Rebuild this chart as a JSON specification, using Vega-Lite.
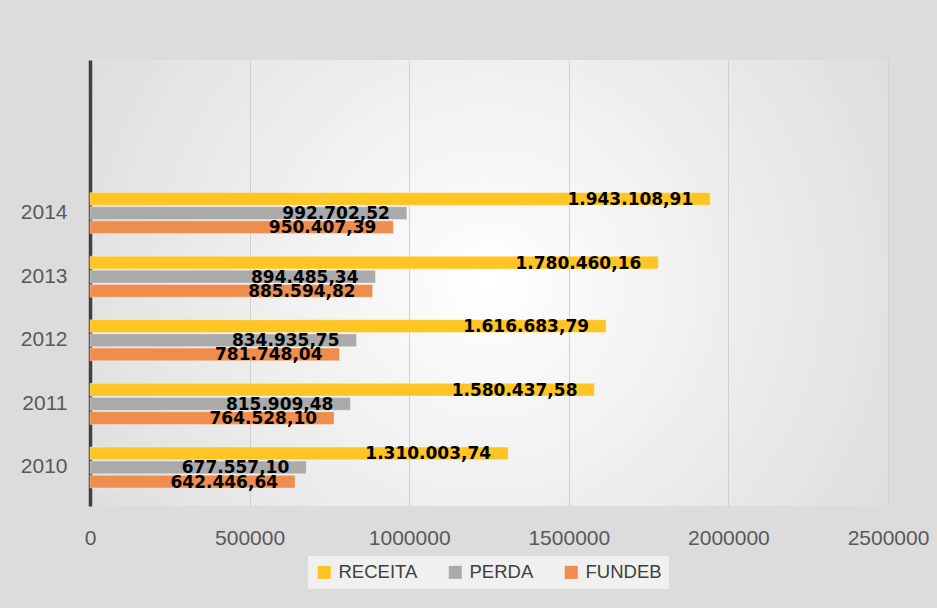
{
  "$schema": "https://vega.github.io/schema/vega-lite/v6.json",
  "autosize": "none",
  "width": 798,
  "height": 446,
  "padding": {"left": 90, "top": 60, "right": 49, "bottom": 102},
  "background": "#dcdcdc",
  "config": {
    "locale": {"number": {"decimal": ",", "thousands": ".", "grouping": [3], "currency": ["R$", ""]}},
    "view": {"stroke": null, "fill": {"gradient": "radial", "x1": 0.5, "y1": 0.5, "x2": 0.5, "y2": 0.5, "r1": 0, "r2": 0.75, "stops": [{"offset": 0, "color": "#ffffff"}, {"offset": 1, "color": "#d4d4d4"}]}},
    "font": "Liberation Sans"
  },
  "data": {"values": [
    {"year": "2010", "series": "RECEITA", "value": 1310003.74},
    {"year": "2010", "series": "PERDA", "value": 677557.10},
    {"year": "2010", "series": "FUNDEB", "value": 642446.64},
    {"year": "2011", "series": "RECEITA", "value": 1580437.58},
    {"year": "2011", "series": "PERDA", "value": 815909.48},
    {"year": "2011", "series": "FUNDEB", "value": 764528.10},
    {"year": "2012", "series": "RECEITA", "value": 1616683.79},
    {"year": "2012", "series": "PERDA", "value": 834935.75},
    {"year": "2012", "series": "FUNDEB", "value": 781748.04},
    {"year": "2013", "series": "RECEITA", "value": 1780460.16},
    {"year": "2013", "series": "PERDA", "value": 894485.34},
    {"year": "2013", "series": "FUNDEB", "value": 885594.82},
    {"year": "2014", "series": "RECEITA", "value": 1943108.91},
    {"year": "2014", "series": "PERDA", "value": 992702.52},
    {"year": "2014", "series": "FUNDEB", "value": 950407.39}
  ]},
  "encoding": {
    "y": {
      "field": "year", "type": "nominal",
      "scale": {"domain": [" ", "  ", "2014", "2013", "2012", "2011", "2010"], "paddingInner": 0.355, "paddingOuter": 0.184, "align": 0.23},
      "axis": {"title": null, "ticks": false, "labelFontSize": 21, "labelColor": "#595959", "labelPadding": 23, "domainColor": "#404040", "domainWidth": 3.5, "grid": false}
    },
    "yOffset": {"field": "series", "type": "nominal", "scale": {"domain": ["RECEITA", "PERDA", "FUNDEB"], "paddingInner": 0.1}},
    "x": {
      "field": "value", "type": "quantitative",
      "scale": {"domain": [0, 2500000], "nice": false},
      "axis": {"title": null, "values": [0, 500000, 1000000, 1500000, 2000000, 2500000], "format": "d", "ticks": false, "domain": false, "labelFontSize": 21, "labelColor": "#595959", "labelPadding": 21, "gridColor": "#d0d0d0", "gridWidth": 1, "labelFlush": false}
    }
  },
  "layer": [
    {
      "mark": {"type": "bar", "stroke": "#ffffff", "strokeOpacity": 0.35, "strokeWidth": 1},
      "encoding": {
        "color": {"field": "series", "type": "nominal",
          "scale": {"domain": ["RECEITA", "PERDA", "FUNDEB"], "range": ["#FFC524", "#AAAAAA", "#EE8D4E"]},
          "legend": {"title": null, "orient": "none", "legendX": 218, "legendY": 496, "direction": "horizontal", "symbolType": "square", "symbolSize": 170, "symbolStrokeWidth": 0, "symbolOpacity": 1, "labelFontSize": 18.5, "labelColor": "#404040", "labelOffset": 5, "columnPadding": 28, "fillColor": "#f0f0f0", "padding": 7}
        }
      }
    },
    {
      "mark": {"type": "text", "align": "right", "baseline": "middle", "dx": -17, "dy": 1, "font": "DejaVu Sans", "fontWeight": "bold", "fontSize": 17, "color": "#000000"},
      "encoding": {
        "text": {"field": "value", "type": "quantitative", "format": ",.2f"}
      }
    }
  ]
}
